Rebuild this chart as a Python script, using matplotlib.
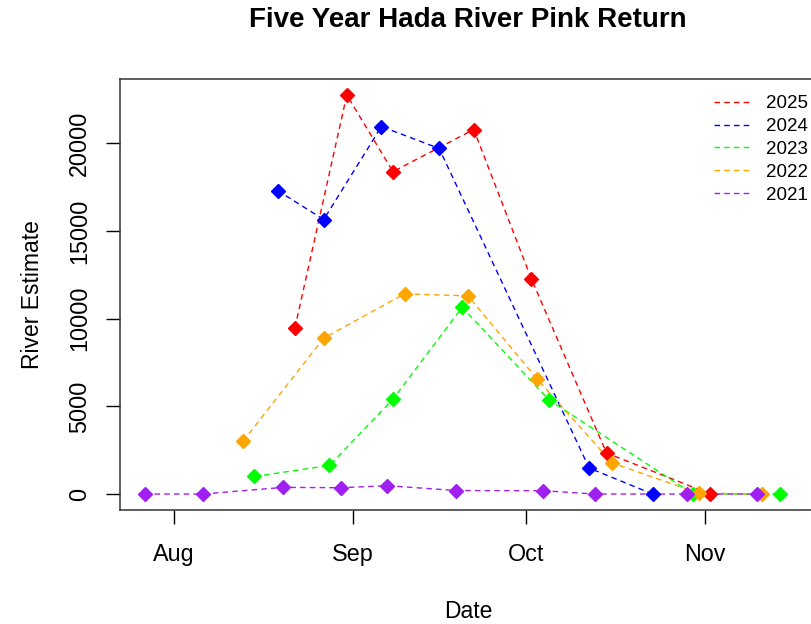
import numpy as np
import pandas as pd
import matplotlib
matplotlib.use("Agg")
import matplotlib.pyplot as plt
import matplotlib.dates as mdates

plt.rcParams['font.family'] = ['Liberation Sans', 'DejaVu Sans']

# survey dates (all mapped onto one season) and river estimates
dates_2025 = ["08-22", "08-31", "09-08", "09-22", "10-02", "10-15", "11-02"]
est_2025 = [9460, 22750, 18380, 20780, 12250, 2340, 0]

dates_2024 = ["08-19", "08-27", "09-06", "09-16", "10-12", "10-23"]
est_2024 = [17300, 15650, 20950, 19700, 1480, 0]

dates_2023 = ["08-15", "08-28", "09-08", "09-20", "10-05", "10-30", "11-14"]
est_2023 = [1000, 1630, 5410, 10650, 5370, 0, 0]

dates_2022 = ["08-13", "08-27", "09-10", "09-21", "10-03", "10-16", "10-31", "11-11"]
est_2022 = [3000, 8890, 11410, 11300, 6550, 1770, 50, 0]

dates_2021 = ["07-27", "08-06", "08-20", "08-30", "09-07", "09-19", "10-04",
              "10-13", "10-29", "11-10"]
est_2021 = [0, 0, 380, 360, 475, 200, 190, 0, 0, 0]

years = ["2025", "2024", "2023", "2022", "2021"]
all_dates = [dates_2025, dates_2024, dates_2023, dates_2022, dates_2021]
all_est = [est_2025, est_2024, est_2023, est_2022, est_2021]
colors = ["#FF0000", "#0000FF", "#00FF00", "#FFA500", "#A020F0"]

month_ticks = ["08-01", "09-01", "10-01", "11-01"]
month_labels = ["Aug", "Sep", "Oct", "Nov"]


def to_dates(md):
	return pd.to_datetime(["2025-" + s for s in md])


fig = plt.figure(figsize=(8.12, 6.24), dpi=100)
ax = fig.add_axes([120/812, 1 - 510/624, (816-120)/812, (510-79)/624])

for yr, d, v, c in zip(years, all_dates, all_est, colors):
	ax.plot(to_dates(d), v, color=c, ls=(0, (4, 3)), lw=1.0, label=yr)
	ax.plot(to_dates(d), v, color=c, ls='none', marker='D', markersize=6.8, zorder=3)

aug1 = mdates.date2num(pd.Timestamp("2025-08-01"))
ax.set_xlim(aug1 - 9.3, aug1 + 111.3)
ax.set_ylim(-910, 23660)

ax.set_xticks(to_dates(month_ticks))
ax.set_xticklabels(month_labels)
ax.set_yticks([0, 5000, 10000, 15000, 20000])
ax.set_yticklabels(["0", "5000", "10000", "15000", "20000"], rotation=90, va='center')
ax.tick_params(axis='both', length=10, width=1, labelsize=16.8, direction='out')
ax.tick_params(axis='x', pad=14)
ax.tick_params(axis='y', pad=11)
for s in ax.spines.values():
	s.set_linewidth(1.1)
	s.set_color('#333333')

ax.set_xlabel("Date", fontsize=16.5, labelpad=24)
ax.set_ylabel("River Estimate", fontsize=16.5, labelpad=17)
fig.text(468/812, 1 - 20/624, "Five Year Hada River Pink Return",
	fontsize=20, fontweight='bold', ha='center', va='center')

ax.legend(loc='upper left', bbox_to_anchor=(705/812, 1 - 86/624),
	bbox_transform=fig.transFigure, frameon=False, fontsize=13.5,
	handlelength=1.9, handletextpad=0.85, labelspacing=0.3, borderpad=0)

plt.savefig("out.png", dpi=100)
plt.close()
